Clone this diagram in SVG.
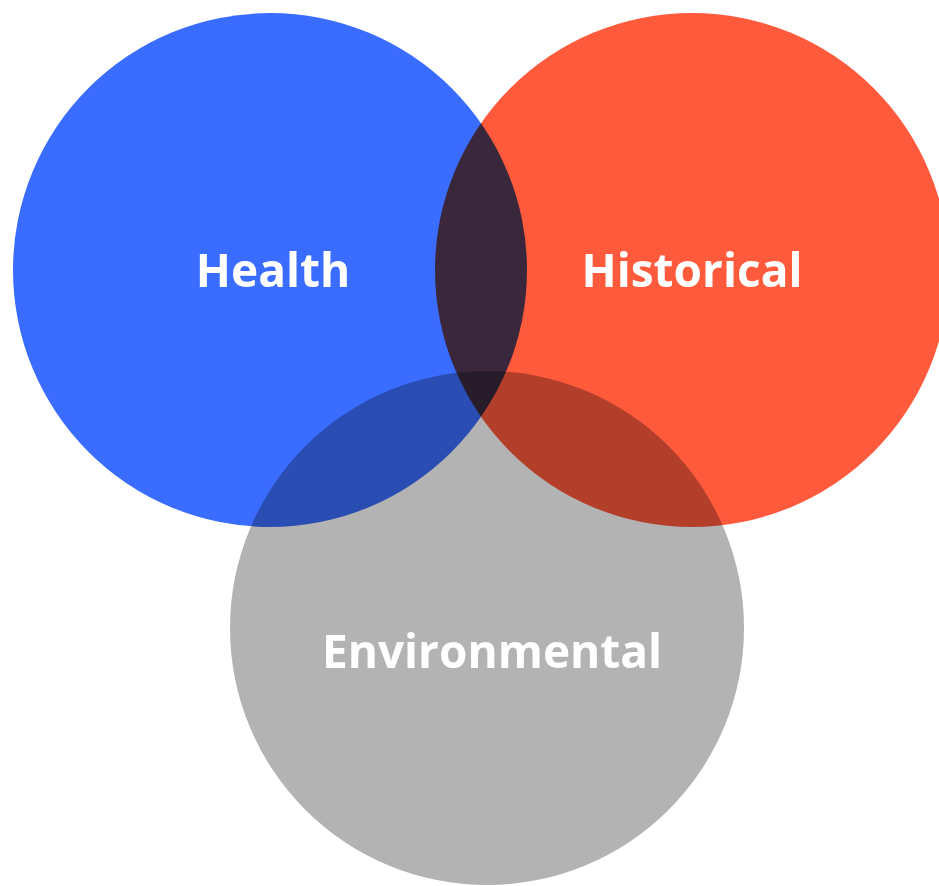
<svg xmlns="http://www.w3.org/2000/svg" width="939" height="886" viewBox="0 0 939 886">
  <style>
    .set { mix-blend-mode: multiply; }
    .label { font-family: "Open Sans", "Lato", "Liberation Sans", sans-serif; font-weight: 700; font-size: 46px; fill: #ffffff; text-anchor: middle; }
  </style>
  <rect width="939" height="886" fill="#ffffff"/>
  <g id="venn" style="isolation:isolate">
    <g id="health">
      <circle class="set" cx="270" cy="270" r="257" fill="#3A6DFF"/>
    </g>
    <g id="historical">
      <circle class="set" cx="692" cy="270" r="257" fill="#FF5A3C"/>
    </g>
    <g id="environmental">
      <circle class="set" cx="487" cy="628" r="257" fill="#B3B3B3"/>
    </g>
  </g>
  <g id="labels">
    <text class="label" x="273" y="287">Health</text>
    <text class="label" x="692" y="287">Historical</text>
    <text class="label" x="492" y="668">Environmental</text>
  </g>
</svg>
